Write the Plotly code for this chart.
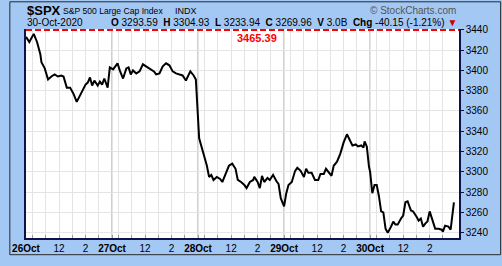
import plotly.graph_objects as go

# ---------------- data ----------------
days = ["2020-10-26", "2020-10-27", "2020-10-28", "2020-10-29", "2020-10-30"]
day_labels = ["26Oct", "27Oct", "28Oct", "29Oct", "30Oct"]

times_26 = ["09:30","09:45","10:05","10:20","10:35","10:40","10:55","11:10","11:25","11:40",
            "11:55","12:10","12:20","12:35","12:50","13:05","13:20","13:35","14:00","14:10",
            "14:20","14:30","14:40","14:55","15:05","15:15","15:25","15:40","15:50"]
price_26 = [3433,3428,3436,3428,3416,3408,3402,3391,3394,3396,
            3394,3395,3394,3383,3383,3377,3369,3375,3386,3388,
            3393,3385,3390,3385,3389,3386,3392,3383,3403]

times_27 = ["09:35","09:45","09:55","10:05","10:20","10:35","10:45","10:55","11:05","11:20",
            "11:35","11:50","12:05","12:20","12:40","12:50","13:05","13:20","13:35","13:50",
            "14:05","14:20","14:35","14:50","15:05","15:15","15:25","15:40","15:50"]
price_27 = [3401,3404,3407,3400,3392,3402,3403,3396,3400,3397,
            3399,3406,3404,3402,3399,3396,3397,3404,3407,3405,
            3399,3397,3396,3395,3390,3394,3399,3395,3391]

times_28 = ["09:35","09:40","09:55","10:10","10:20","10:30","10:40","10:55","11:10","11:20",
            "11:35","11:50","12:05","12:20","12:30","12:45","13:00","13:10","13:25","13:40",
            "13:45","14:00","14:10","14:20","14:30","14:45","14:55","15:10","15:25","15:35",
            "15:45","15:55"]
price_28 = [3333,3329,3318,3306,3295,3297,3292,3295,3293,3290,
            3298,3306,3308,3303,3292,3290,3287,3284,3290,3292,
            3295,3290,3284,3296,3290,3294,3292,3297,3291,3288,
            3274,3268]

times_29 = ["09:30","09:40","09:50","10:05","10:20","10:30","10:45","11:00","11:10","11:20",
            "11:35","11:50","12:05","12:15","12:30","12:40","12:50","13:05","13:15","13:30",
            "13:45","14:00","14:15","14:25","14:40","14:55","15:05","15:20","15:30","15:35",
            "15:45","15:55"]
price_29 = [3266,3279,3287,3290,3301,3304,3301,3295,3303,3299,
            3299,3292,3292,3298,3298,3303,3300,3296,3306,3310,
            3318,3329,3337,3333,3326,3327,3325,3326,3324,3330,
            3325,3305]

times_30 = ["09:30","09:40","09:50","10:00","10:10","10:20","10:30","10:40","10:50","11:05",
            "11:15","11:25","11:35","11:50","12:00","12:10","12:20","12:35","12:45","13:00",
            "13:10","13:20","13:30","13:40","13:50","14:00","14:15","14:25","14:40","14:55",
            "15:00","15:10","15:25","15:35","15:50"]
price_30 = [3300,3279,3287,3287,3276,3261,3260,3244,3240,3246,
            3251,3248,3248,3254,3257,3270,3271,3262,3261,3256,
            3252,3254,3246,3249,3251,3261,3252,3244,3244,3243,
            3241,3247,3246,3243,3270]

y_ticks = [3240, 3260, 3280, 3300, 3320, 3340, 3360, 3380, 3400, 3420, 3440]
hour_ticks = ["10:00", "11:00", "12:00", "13:00", "14:00", "15:00"]
hour_labels = {"12:00": "12", "14:00": "2"}
prev_high_level = 3465.39
header_symbol = "$SPX"
header_name = "S&P 500 Large Cap Index"
header_exch = "INDX"
header_date = "30-Oct-2020"
ohlc = {"O": "3293.59", "H": "3304.93", "L": "3233.94", "C": "3269.96", "V": "3.0B"}
chg_text = "-40.15 (-1.21%)"

# ---------------- helpers ----------------
SESSION = 6.5  # trading hours per day


def session_hours(day_idx, hhmm):
    h, m = map(int, hhmm.split(":"))
    return day_idx * SESSION + (h * 60 + m - 570) / 60.0


all_times = [times_26, times_27, times_28, times_29, times_30]
all_prices = [price_26, price_27, price_28, price_29, price_30]
xs, ys = [], []
for i, (tt, pp) in enumerate(zip(all_times, all_prices)):
    for t, p in zip(tt, pp):
        xs.append(session_hours(i, t))
        ys.append(p)

tickvals, ticktext = [], []
for i, lab in enumerate(day_labels):
    tickvals.append(session_hours(i, "09:30"))
    ticktext.append("<b>" + lab + "</b>")
    for h in hour_ticks:
        tickvals.append(session_hours(i, h))
        ticktext.append(hour_labels.get(h, ""))

# layout geometry (pixels)
W, H = 502, 266
ML, MR, MT, MB = 17, 43, 29, 18
PW, PH = W - ML - MR, H - MT - MB
X_HI = PW / 13.51
Y_LO, Y_HI = 3234.8, 3440.8


def px_x(p):
    return (p - ML) / PW


def px_y(p):
    return 1 - (p - MT) / PH


FONT = "Arial, Liberation Sans, sans-serif"

fig = go.Figure()
fig.add_trace(go.Scatter(x=xs, y=ys, mode="lines",
                         line=dict(color="#000000", width=2),
                         hoverinfo="skip", showlegend=False))

shapes = []
# darker day separator lines
for i in range(1, len(days)):
    xv = session_hours(i, "09:30")
    shapes.append(dict(type="line", xref="x", yref="paper", x0=xv, x1=xv, y0=0, y1=1,
                       line=dict(color="#bdbdbd", width=1.5), layer="between"))
# previous high line (clamped to the top of the visible range)
y_line = min(prev_high_level, Y_HI - 0.9)
shapes.append(dict(type="line", xref="paper", yref="y", x0=0, x1=1, y0=y_line, y1=y_line,
                   line=dict(color="#ff0000", width=2, dash="6px,3px"), layer="above"))
# outer border of the whole image
shapes.append(dict(type="rect", xref="paper", yref="paper",
                   x0=px_x(0.5), x1=px_x(W - 0.5), y0=px_y(H - 0.5), y1=px_y(0.5),
                   line=dict(color="#2a2a2a", width=1), fillcolor="rgba(0,0,0,0)", layer="above"))

annotations = [
    dict(xref="paper", yref="paper", x=px_x(16), y=px_y(9.5), xanchor="left", yanchor="middle",
         showarrow=False,
         text="<b>" + header_symbol + "</b>",
         font=dict(family=FONT, size=13, color="#000000")),
    dict(xref="paper", yref="paper", x=px_x(53), y=px_y(10), xanchor="left", yanchor="middle",
         showarrow=False, text=header_name,
         font=dict(family=FONT, size=8.6, color="#000000")),
    dict(xref="paper", yref="paper", x=px_x(167), y=px_y(10), xanchor="left", yanchor="middle",
         showarrow=False, text=header_exch,
         font=dict(family=FONT, size=9, color="#000000")),
    dict(xref="paper", yref="paper", x=px_x(16), y=px_y(22), xanchor="left", yanchor="middle",
         showarrow=False, text=header_date,
         font=dict(family=FONT, size=10, color="#000000")),
    dict(xref="paper", yref="paper", x=px_x(459), y=px_y(22), xanchor="right", yanchor="middle",
         showarrow=False,
         text="  ".join("<b>%s</b> %s" % (k, v) for k, v in ohlc.items())
              + "  <b>Chg</b> " + chg_text + " <span style='color:#cc0000'>▼</span>",
         font=dict(family=FONT, size=10, color="#000000")),
    dict(xref="paper", yref="paper", x=px_x(458), y=px_y(10), xanchor="right", yanchor="middle",
         showarrow=False, text="© StockCharts.com",
         font=dict(family=FONT, size=10, color="#555555")),
    dict(xref="paper", yref="paper", x=px_x(253), y=px_y(38), xanchor="center", yanchor="middle",
         showarrow=False, text="<b>%.2f</b>" % prev_high_level,
         font=dict(family=FONT, size=11, color="#ff0000")),
]

fig.update_layout(
    width=W, height=H,
    margin=dict(l=ML, r=MR, t=MT, b=MB, pad=0),
    paper_bgcolor="#a4c8f4",
    plot_bgcolor="#ffffff",
    shapes=shapes,
    annotations=annotations,
    xaxis=dict(range=[0, X_HI], tickmode="array", tickvals=tickvals, ticktext=ticktext,
               showgrid=True, gridcolor="#e4e4e4", gridwidth=1,
               showline=True, linecolor="#10104a", linewidth=1.5,
               ticks="inside", ticklen=3, tickcolor="#999999",
               tickfont=dict(family=FONT, size=10, color="#000000"),
               zeroline=False, fixedrange=True),
    yaxis=dict(range=[Y_LO, Y_HI], side="right", tickmode="array", tickvals=y_ticks,
               showgrid=True, gridcolor="#e4e4e4", gridwidth=1,
               showline=True, linecolor="#10104a", linewidth=1.5, mirror=True,
               ticks="outside", ticklen=3, tickcolor="#10104a",
               tickfont=dict(family=FONT, size=10, color="#000000"),
               zeroline=False, fixedrange=True),
    font=dict(family=FONT),
)

fig.write_html("out.html")
